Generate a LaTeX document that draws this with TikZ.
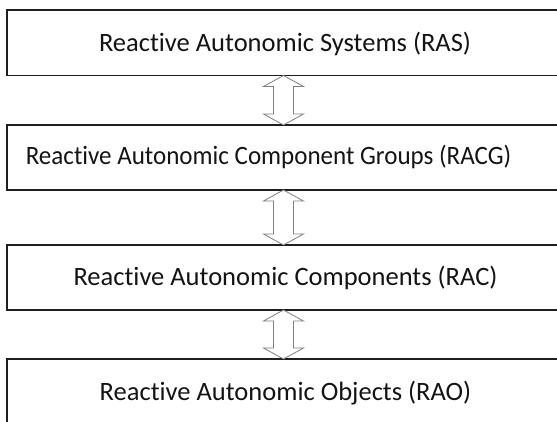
\documentclass[tikz,border=0pt]{standalone}
\usepackage{fontspec}
\setmainfont{Carlito}[Ligatures=CommonOff]
\usetikzlibrary{calc}
\tikzset{
  layerbox/.style={draw=black!88, line width=1.3pt, fill=white, anchor=north west,
    minimum width=556pt, minimum height=65pt, inner sep=0pt, outer sep=0pt},
  layertext/.style={anchor=base, inner sep=0pt, text=black!92,
    font=\fontsize{26.5}{30}\selectfont},
  blockarr/.style={draw=black!50, line width=0.8pt, fill=white, line join=miter}
}
\newcommand\blockarrow[3]{%
  \draw[blockarr] ($(#2.south -| #1)$) -- ++(20,11) -- ++(-10,0)
    -- ($(#3.north -| #1)+(10,-11)$) -- ++(10,0) -- ($(#3.north -| #1)$)
    -- ++(-20,-11) -- ++(10,0) -- ($(#2.south -| #1)+(-10,11)$) -- ++(-10,0) -- cycle;}
\begin{document}
\begin{tikzpicture}[x=1pt,y=-1pt]
\useasboundingbox (0,0) rectangle (557,422);
\fill[white] (0,0) rectangle (557,422);
\node[layerbox, minimum height=65.5pt] (b1) at (7,10) {};
\node[layerbox] (b2) at (7,125) {};
\node[layerbox] (b3) at (7,245) {};
\node[layerbox] (b4) at (7,359) {};
\node[layertext] (t1) at (285,51.5) {Reactive Autonomic Systems (RAS)};
\node[layertext, xscale=0.945] (t2) at (268.5,165) {Reactive Autonomic Component Groups (RACG)};
\node[layertext] (t3) at (285.5,285.5) {Reactive Autonomic Components (RAC)};
\node[layertext] (t4) at (285.5,400) {Reactive Autonomic Objects (RAO)};
\coordinate (ax) at (283.5,0);
\blockarrow{ax}{b1}{b2}
\blockarrow{ax}{b2}{b3}
\blockarrow{ax}{b3}{b4}
\end{tikzpicture}
\end{document}
